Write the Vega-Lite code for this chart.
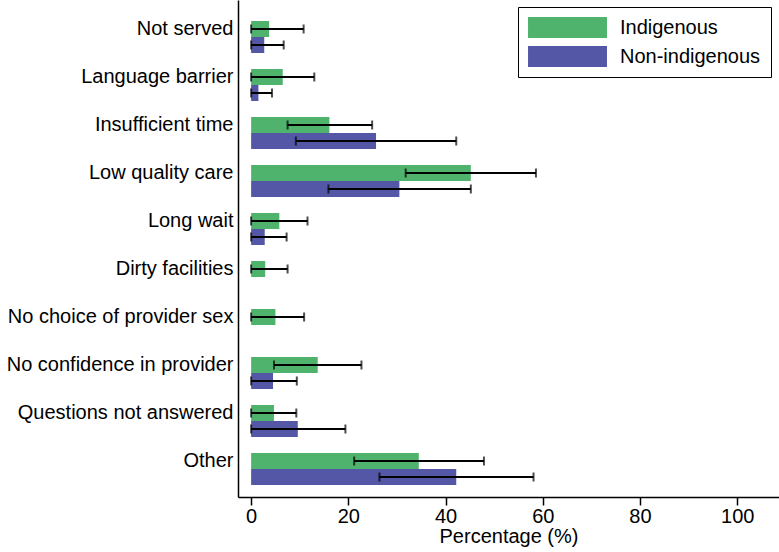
{
  "$schema": "https://vega.github.io/schema/vega-lite/v6.json",
  "width": 541,
  "height": 497,
  "autosize": {"type": "none"},
  "padding": {"left": 238, "top": 0, "right": 0, "bottom": 55},
  "background": "white",
  "config": {
    "view": {"stroke": null},
    "font": "Liberation Sans",
    "axis": {"labelFont": "Liberation Sans", "titleFont": "Liberation Sans", "labelColor": "black", "titleColor": "black", "domainColor": "black", "tickColor": "black", "grid": false, "domainWidth": 1.5, "tickWidth": 1.5}
  },
  "data": {
    "values": [
      {"reason": "Not served", "group": "Indigenous", "value": 3.7, "lo": 0, "hi": 10.8},
      {"reason": "Not served", "group": "Non-indigenous", "value": 2.7, "lo": 0, "hi": 6.7},
      {"reason": "Language barrier", "group": "Indigenous", "value": 6.5, "lo": 0, "hi": 13.0},
      {"reason": "Language barrier", "group": "Non-indigenous", "value": 1.5, "lo": 0, "hi": 4.3},
      {"reason": "Insufficient time", "group": "Indigenous", "value": 16.1, "lo": 7.5, "hi": 24.9},
      {"reason": "Insufficient time", "group": "Non-indigenous", "value": 25.7, "lo": 9.2, "hi": 42.2},
      {"reason": "Low quality care", "group": "Indigenous", "value": 45.2, "lo": 31.8, "hi": 58.6},
      {"reason": "Low quality care", "group": "Non-indigenous", "value": 30.5, "lo": 15.9, "hi": 45.2},
      {"reason": "Long wait", "group": "Indigenous", "value": 5.8, "lo": 0, "hi": 11.6},
      {"reason": "Long wait", "group": "Non-indigenous", "value": 2.8, "lo": 0, "hi": 7.3},
      {"reason": "Dirty facilities", "group": "Indigenous", "value": 2.9, "lo": 0, "hi": 7.5},
      {"reason": "No choice of provider sex", "group": "Indigenous", "value": 5.0, "lo": 0, "hi": 10.9},
      {"reason": "No confidence in provider", "group": "Indigenous", "value": 13.7, "lo": 4.7, "hi": 22.7},
      {"reason": "No confidence in provider", "group": "Non-indigenous", "value": 4.5, "lo": 0, "hi": 9.4},
      {"reason": "Questions not answered", "group": "Indigenous", "value": 4.7, "lo": 0, "hi": 9.3},
      {"reason": "Questions not answered", "group": "Non-indigenous", "value": 9.6, "lo": 0, "hi": 19.4},
      {"reason": "Other", "group": "Indigenous", "value": 34.5, "lo": 21.2, "hi": 47.9},
      {"reason": "Other", "group": "Non-indigenous", "value": 42.2, "lo": 26.4, "hi": 58.1}
    ]
  },
  "encoding": {
    "y": {
      "field": "reason", "type": "nominal",
      "sort": ["Not served", "Language barrier", "Insufficient time", "Low quality care", "Long wait", "Dirty facilities", "No choice of provider sex", "No confidence in provider", "Questions not answered", "Other"],
      "scale": {"paddingInner": 0, "paddingOuter": 0.177, "align": 0.294},
      "axis": {"title": null, "ticks": false, "labelFontSize": 20, "labelPadding": 5, "labelLimit": 0, "domainWidth": 1.5}
    },
    "yOffset": {
      "field": "group", "type": "nominal",
      "scale": {"domain": ["_", "Indigenous", "Non-indigenous"], "paddingInner": 0, "paddingOuter": 0}
    }
  },
  "layer": [
    {
      "mark": {"type": "bar"},
      "encoding": {
        "x": {
          "field": "value", "type": "quantitative",
          "scale": {"domain": [-2.7, 108.6], "nice": false, "zero": false},
          "axis": {"title": "Percentage (%)", "values": [0, 20, 40, 60, 80, 100], "labelFontSize": 20, "titleFontSize": 20, "titleFontWeight": "normal", "tickSize": 8, "labelPadding": 1, "titlePadding": 0, "labelFlush": false}
        },
        "x2": {"datum": 0},
        "color": {
          "field": "group", "type": "nominal",
          "scale": {"domain": ["Indigenous", "Non-indigenous"], "range": ["#50b36d", "#5457a6"]},
          "legend": {
            "title": null,
            "orient": "none",
            "legendX": 280,
            "legendY": 7,
            "symbolType": "M-3.76,-1H3.76V1H-3.76Z",
            "symbolSize": 441,
            "symbolStrokeWidth": 0,
            "symbolOpacity": 1,
            "symbolOffset": 29,
            "labelFontSize": 20,
            "labelColor": "black",
            "labelFont": "Liberation Sans",
            "labelOffset": 42,
            "labelLimit": 0,
            "strokeColor": "black",
            "fillColor": "white",
            "padding": 10,
            "rowPadding": 8
          }
        }
      }
    },
    {
      "mark": {"type": "rule", "color": "black", "strokeWidth": 2},
      "encoding": {
        "x": {"field": "lo", "type": "quantitative"},
        "x2": {"field": "hi"}
      }
    },
    {
      "mark": {"type": "tick", "color": "black", "thickness": 2, "size": 9},
      "encoding": {"x": {"field": "lo", "type": "quantitative"}}
    },
    {
      "mark": {"type": "tick", "color": "black", "thickness": 2, "size": 9},
      "encoding": {"x": {"field": "hi", "type": "quantitative"}}
    }
  ]
}
